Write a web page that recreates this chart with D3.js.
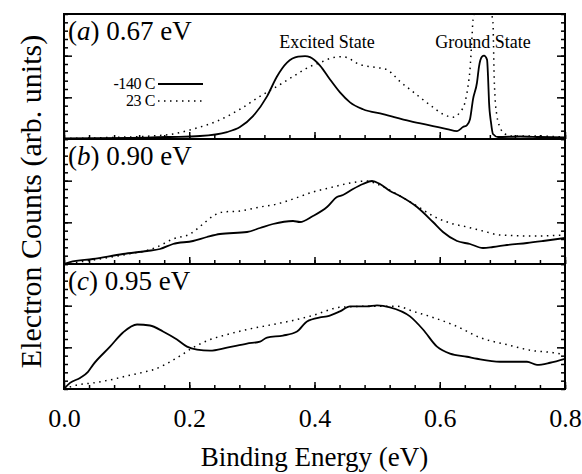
<!DOCTYPE html>
<html>
<head>
<meta charset="utf-8">
<script src="https://cdn.jsdelivr.net/npm/d3@7"></script>
<style>
  body { margin: 0; background: #fff; }
  svg text { font-family: "Liberation Serif", "DejaVu Serif", "Times New Roman", serif; }
</style>
</head>
<body>
<div id="viz"></div>
<script>
// ---- data (energy in eV, counts in arb. units 0-15) ----
var energyTicks = [0.0, 0.2, 0.4, 0.6, 0.8];
var panelTags = ["a", "b", "c"];
var photonEnergies = ["0.67 eV", "0.90 eV", "0.95 eV"];
var legendLabels = ["-140 C", "23 C"];
var peakLabels = ["Excited State", "Ground State"];
var peakLabelPos = [0.42, 0.669];

// (a) 0.67 eV
var aCold = [[0,0.06],[0.1054,0.12],[0.1693,0.24],[0.2172,0.36],[0.2603,0.83],[0.281,1.43],[0.3018,2.74],
  [0.3242,5.12],[0.3401,7.5],[0.3561,9.16],[0.3737,9.88],[0.3849,9.94],[0.3928,9.82],[0.4088,8.81],
  [0.4248,7.14],[0.4407,5.59],[0.4567,4.4],[0.4774,3.57],[0.5094,2.98],[0.5525,2.14],[0.5892,1.55],
  [0.6116,1.19],[0.6276,0.95],[0.6371,1.43],[0.6435,1.67],[0.6483,2.38],[0.6531,4.76],[0.6595,6.78],
  [0.6627,8.69],[0.6675,9.88],[0.6707,10.0],[0.6755,9.52],[0.6771,7.5],[0.6787,4.4],[0.6818,2.02],
  [0.685,0.6],[0.693,0.24],[0.7282,0.3],[0.7601,0.24],[0.8,0.18]];
var aWarm = [[0,0.06],[0.0735,0.18],[0.1373,0.36],[0.174,0.6],[0.206,1.19],[0.2443,2.14],[0.281,3.57],
  [0.313,5.12],[0.3401,6.31],[0.3657,7.5],[0.3928,8.69],[0.4088,9.16],[0.4295,9.76],[0.4455,9.88],
  [0.4727,8.93],[0.4998,8.57],[0.5158,8.33],[0.5254,7.74],[0.5365,6.9],[0.5525,5.95],[0.5685,5.0],
  [0.5892,3.81],[0.6052,2.98],[0.6212,2.62],[0.6323,3.21],[0.6403,4.4],[0.6451,6.31],[0.6483,8.33],
  [0.6515,12.26],[0.6531,14.28],[0.6579,15.6],[0.6691,16.0],[0.6802,15.6],[0.685,13.92],
  [0.6858,11.54],[0.6866,8.33],[0.6882,5.12],[0.6914,2.74],[0.6962,1.43],[0.7042,0.6],[0.7154,0.36],
  [0.7489,0.36],[0.7968,0.24]];

// (b) 0.90 eV
var bCold = [[0,0],[0.0096,0.24],[0.0463,0.6],[0.0942,1.2],[0.1325,1.56],[0.1533,1.8],[0.174,2.4],
  [0.206,2.76],[0.2283,3.24],[0.2491,3.6],[0.2922,3.84],[0.313,4.32],[0.3337,4.8],[0.3657,5.16],
  [0.3769,5.04],[0.3976,5.76],[0.42,6.84],[0.4359,8.04],[0.4455,8.28],[0.4615,9.0],[0.4774,9.6],
  [0.4918,9.96],[0.5046,9.6],[0.5206,8.76],[0.5365,8.16],[0.5637,6.84],[0.5892,5.04],[0.6052,3.84],
  [0.6276,2.76],[0.6483,2.4],[0.6691,1.92],[0.685,2.04],[0.7074,2.28],[0.7393,2.52],[0.7649,2.76],
  [0.8,3.12]];
var bWarm = [[0,0],[0.0463,0.48],[0.0942,1.08],[0.1485,2.04],[0.174,3.0],[0.2012,3.6],[0.222,4.8],
  [0.2379,5.76],[0.2539,6.24],[0.281,6.36],[0.313,6.84],[0.3401,7.2],[0.3657,7.8],[0.3976,8.64],
  [0.4295,9.24],[0.4567,9.72],[0.4838,9.96],[0.4998,9.6],[0.5365,8.16],[0.5637,6.96],[0.5892,5.76],
  [0.6164,4.92],[0.6435,4.44],[0.6691,3.96],[0.6962,3.48],[0.7489,3.36],[0.8,3.48]];

// (c) 0.95 eV
var cCold = [[0,0],[0.0096,0.73],[0.0256,1.33],[0.0383,2.06],[0.0463,2.9],[0.0735,5.08],[0.0942,6.78],
  [0.1166,7.74],[0.1373,7.62],[0.1581,6.9],[0.1804,5.93],[0.1964,5.08],[0.2124,4.72],[0.2331,4.6],
  [0.2603,4.96],[0.2922,5.45],[0.313,5.69],[0.3242,6.17],[0.3497,6.41],[0.3721,6.9],[0.388,8.11],
  [0.4088,8.59],[0.42,8.71],[0.4407,9.32],[0.4567,9.92],[0.4838,9.92],[0.4998,10.04],[0.5206,9.8],
  [0.5525,8.71],[0.5733,7.14],[0.5956,5.08],[0.6164,4.24],[0.6435,3.87],[0.6595,3.63],[0.6962,3.27],
  [0.7393,3.27],[0.7553,2.9],[0.7761,3.15],[0.8,3.63]];
var cWarm = [[0,0],[0.0208,0.48],[0.0463,0.73],[0.0735,1.09],[0.1006,1.57],[0.1293,2.06],[0.1421,2.3],
  [0.1804,3.75],[0.206,4.96],[0.2331,5.93],[0.2603,6.53],[0.2922,7.14],[0.3337,7.74],[0.3657,8.23],
  [0.3976,8.83],[0.4407,9.8],[0.4838,9.92],[0.5318,9.92],[0.5573,9.32],[0.5892,8.59],[0.6276,7.5],
  [0.6643,6.17],[0.7074,5.32],[0.7489,4.6],[0.7809,4.36],[0.8,4.11]];

var panelCold = [aCold, bCold, cCold];
var panelWarm = [aWarm, bWarm, cWarm];

// ---- layout ----
var W = 582, H = 474,
    plotL = 64, plotR = 565, plotT = 14, panelH = 125;

var svg = d3.select("#viz").append("svg")
    .attr("width", W)
    .attr("height", H);

var x = d3.scaleLinear().domain([0, 0.8]).range([plotL, plotR]);
var y = d3.scaleLinear().domain([0, 15]).range([panelH, 0]);

var minorX = d3.range(0, 0.8001, 0.04);
var minorY = d3.range(0, 15.01, 1);
var majorY = [5, 10];

var line = d3.line()
    .x(function(d) { return x(d[0]); })
    .y(function(d) { return y(d[1]); })
    .curve(d3.curveMonotoneX);

panelTags.forEach(function(tag, i) {
  var g = svg.append("g")
      .attr("transform", "translate(0," + (plotT + i * panelH) + ")");

  g.append("clipPath").attr("id", "clip" + i)
    .append("rect")
      .attr("x", plotL).attr("y", 0)
      .attr("width", plotR - plotL).attr("height", panelH);

  var curves = g.append("g").attr("clip-path", "url(#clip" + i + ")");

  curves.append("path")
      .datum(panelWarm[i])
      .attr("d", line)
      .attr("fill", "none")
      .attr("stroke", "#000")
      .attr("stroke-width", 1.5)
      .attr("stroke-dasharray", "1.5,4.5");

  curves.append("path")
      .datum(panelCold[i])
      .attr("d", line)
      .attr("fill", "none")
      .attr("stroke", "#000")
      .attr("stroke-width", 1.8)
      .attr("stroke-linejoin", "round");

  // inward ticks: bottom, left, right
  var axes = [
    d3.axisBottom(x).tickValues(minorX).tickSize(-4),
    d3.axisBottom(x).tickValues(energyTicks).tickSize(-7)
  ];
  axes.forEach(function(ax) {
    g.append("g")
        .attr("transform", "translate(0," + panelH + ")")
        .call(ax.tickFormat(""))
        .call(function(s) { s.select(".domain").remove(); })
        .selectAll("line").attr("stroke-width", 1.5);
  });

  [[minorY, 4], [majorY, 8]].forEach(function(t) {
    g.append("g")
        .attr("transform", "translate(" + plotL + ",0)")
        .call(d3.axisLeft(y).tickValues(t[0]).tickSize(-t[1]).tickFormat(""))
        .call(function(s) { s.select(".domain").remove(); })
        .selectAll("line").attr("stroke-width", 1.5);
    g.append("g")
        .attr("transform", "translate(" + plotR + ",0)")
        .call(d3.axisRight(y).tickValues(t[0]).tickSize(-t[1]).tickFormat(""))
        .call(function(s) { s.select(".domain").remove(); })
        .selectAll("line").attr("stroke-width", 1.5);
  });

  g.append("rect")
      .attr("x", plotL).attr("y", 0)
      .attr("width", plotR - plotL).attr("height", panelH)
      .attr("fill", "none")
      .attr("stroke", "#000")
      .attr("stroke-width", 2);

  var lab = g.append("text")
      .attr("x", plotL + 4)
      .attr("y", 26)
      .attr("font-size", 27);
  lab.append("tspan").text("(");
  lab.append("tspan").attr("font-style", "italic").text(tag);
  lab.append("tspan").text(") " + photonEnergies[i]);
});

// tick labels under the bottom panel
var labelAxis = svg.append("g")
    .attr("transform", "translate(0," + (plotT + 3 * panelH) + ")")
    .call(d3.axisBottom(x).tickValues(energyTicks).tickSize(0).tickPadding(20)
      .tickFormat(d3.format(".1f")));
labelAxis.select(".domain").remove();
labelAxis.attr("font-family", null).attr("font-size", null);
labelAxis.selectAll("text")
    .attr("font-size", 26)
    .attr("fill", "#000");

svg.append("text")
    .attr("x", (plotL + plotR) / 2)
    .attr("y", 466)
    .attr("text-anchor", "middle")
    .attr("font-size", 27)
    .text("Binding Energy (eV)");

svg.append("text")
    .attr("transform", "translate(41," + (plotT + 1.5 * panelH) + ") rotate(-90)")
    .attr("text-anchor", "middle")
    .attr("font-size", 30)
    .text("Electron Counts (arb. units)");

// peak annotations in panel (a)
peakLabels.forEach(function(t, i) {
  svg.append("text")
      .attr("x", x(peakLabelPos[i]))
      .attr("y", 48)
      .attr("text-anchor", "middle")
      .attr("font-size", 18)
      .text(t);
});

// legend
legendLabels.forEach(function(t, i) {
  var ly = 84 + i * 17;
  svg.append("text")
      .attr("x", 155)
      .attr("y", ly + 5)
      .attr("text-anchor", "end")
      .attr("font-size", 16)
      .attr("letter-spacing", -0.4)
      .text(t);
  svg.append("line")
      .attr("x1", 158).attr("x2", 203)
      .attr("y1", ly).attr("y2", ly)
      .attr("stroke", "#000")
      .attr("stroke-width", i === 0 ? 1.8 : 1.5)
      .attr("stroke-dasharray", i === 0 ? null : "1.5,4.5");
});
</script>
</body>
</html>
